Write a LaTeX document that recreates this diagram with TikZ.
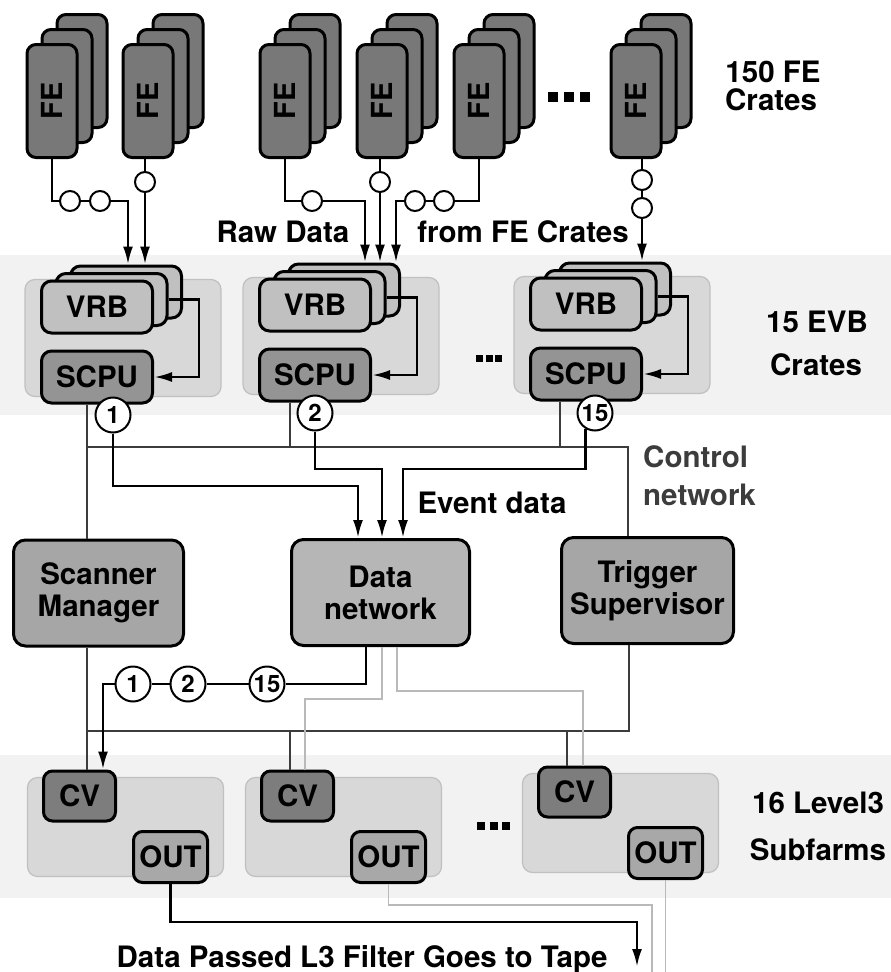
\documentclass[tikz,border=0pt]{standalone}
\usepackage{fontspec}
\setmainfont{TeX Gyre Heros}
\usepackage{graphicx}
\usetikzlibrary{arrows.meta}
\definecolor{fegray}{RGB}{120,120,120}
\definecolor{vrbgray}{RGB}{192,192,192}
\definecolor{cpugray}{RGB}{148,148,148}
\definecolor{crategray}{RGB}{216,216,216}
\definecolor{crateedge}{RGB}{192,192,192}
\definecolor{bandgray}{RGB}{242,242,242}
\definecolor{smgray}{RGB}{166,166,166}
\definecolor{dngray}{RGB}{182,182,182}
\definecolor{cvgray}{RGB}{125,125,125}
\definecolor{outgray}{RGB}{168,168,168}
\definecolor{ctrlgray}{RGB}{60,60,60}
\definecolor{lightline}{RGB}{185,185,185}
\newcommand{\tridots}[2]{\rule{#1}{#1}\hspace{#2}\rule{#1}{#1}\hspace{#2}\rule{#1}{#1}}

\begin{document}
\begin{tikzpicture}[x=1pt,y=-1pt,font=\bfseries\fontsize{29.5}{32}\selectfont,
  fecard/.style={draw,line width=3pt,rounded corners=9pt,fill=fegray,minimum width=50pt,minimum height=113pt,inner sep=0pt},
  vrbcard/.style={draw,line width=3pt,rounded corners=10pt,fill=vrbgray,minimum width=111pt,minimum height=52pt,inner sep=0pt},
  scpubox/.style={vrbcard,fill=cpugray},
  crate/.style={draw=crateedge,line width=1.2pt,rounded corners=10pt,fill=crategray,inner sep=0pt},
  bigbox/.style={draw,line width=3pt,rounded corners=12pt,align=center,inner sep=0pt,minimum height=106pt},
  cvbox/.style={draw,line width=3pt,rounded corners=9pt,fill=cvgray,minimum width=72pt,minimum height=50pt,inner sep=0pt},
  outbox/.style={cvbox,fill=outgray,minimum width=74pt,minimum height=51pt},
  link/.style={circle,draw,line width=2pt,fill=white,minimum size=20pt,inner sep=0pt},
  num/.style={circle,draw,line width=2pt,fill=white,minimum size=35pt,inner sep=0pt,font=\bfseries\fontsize{24}{24}\selectfont},
  data/.style={line width=2.7pt},
  arr/.style={-{Latex[length=18pt,width=10pt]}},
  ctrl/.style={line width=1.8pt,ctrlgray},
  faint/.style={line width=1.8pt,lightline},
  lbl/.style={anchor=base,inner sep=0pt}]
\useasboundingbox (0,0) rectangle (891,972);
\fill[bandgray] (0,255) rectangle (891,415);
\fill[bandgray] (0,755) rectangle (891,898);

\foreach \sx/\nm in {52/a,148/b,285/c,382/d,479/e,636/f}{
  \node[fecard] at (\sx+30,71) {};
  \node[fecard] at (\sx+15,86) {};
  \node[fecard] (fe\nm) at (\sx,101) {\rotatebox{90}{\fontsize{29}{29}\selectfont FE}};
}
\node (fedots) at (569,97) {\tridots{10pt}{6pt}};
\node[lbl] (felbla) at (773,82) {150 FE};
\node[lbl] (felblb) at (771,110) {Crates};

\foreach \vx/\vy/\k in {97/307/1,315/305/2,586/304/3}{
  \node[crate,minimum width=196pt,minimum height=117pt] (crate\k) at (\vx+26,\vy+31) {};
  \node[vrbcard] (vrbc\k) at (\vx+29,\vy-15) {};
  \node[vrbcard] (vrbb\k) at (\vx+14.5,\vy-7.5) {};
  \node[vrbcard] (vrb\k) at (\vx,\vy) {VRB};
  \node[scpubox] (scpu\k) at (\vx,\vy+70) {SCPU};
  \coordinate (fb\k) at (\vx+102,\vy+30);
  \draw[data,arr] (vrbb\k.east) -| (fb\k) |- (scpu\k.east);
}
\node (evbdots) at (489,358) {\tridots{7pt}{2.5pt}};
\node[lbl] (evblbla) at (817,332) {15 EVB};
\node[lbl] (evblblb) at (816,375) {Crates};

\node[link] (la1) at (70,201) {};
\node[link] (la2) at (100,201) {};
\node[link] (lb1) at (145,182) {};
\node[link] (lc1) at (312,201) {};
\node[link] (ld1) at (380,182) {};
\node[link] (le1) at (415,201) {};
\node[link] (le2) at (444,201) {};
\node[link] (lf1) at (642,180) {};
\node[link] (lf2) at (642,208) {};
\coordinate (ina) at (128,0);
\coordinate (inc) at (365,0);
\coordinate (ine) at (396,0);
\draw[data] (fea.south) |- (la1);
\draw[data] (la1) -- (la2);
\draw[data,arr] (la2) -| (ina |- vrbc1.north);
\draw[data] (feb.south -| lb1) -- (lb1);
\draw[data,arr] (lb1) -- (lb1 |- vrbc1.north);
\draw[data] (fec.south) |- (lc1);
\draw[data,arr] (lc1) -| (inc |- vrbc2.north);
\draw[data] (fed.south -| ld1) -- (ld1);
\draw[data,arr] (ld1) -- (ld1 |- vrbc2.north);
\draw[data] (fee.south) |- (le2);
\draw[data] (le2) -- (le1);
\draw[data,arr] (le1) -| (ine |- vrbc2.north);
\draw[data] (fef.south -| lf1) -- (lf1);
\draw[data] (lf1) -- (lf2);
\draw[data,arr] (lf2) -- (lf2 |- vrbc3.north);
\node[lbl] (rawlbl) at (283,242) {Raw Data};
\node[lbl] (fromlbl) at (523,242) {from FE Crates};

\node[bigbox,fill=smgray,minimum width=170pt] (sm) at (98.5,593) {Scanner\\Manager};
\node[bigbox,fill=dngray,minimum width=178pt] (dn) at (380.5,592.5) {Data\\network};
\node[bigbox,fill=smgray,minimum width=172pt] (ts) at (647.5,590.5) {Trigger\\Supervisor};

\coordinate (cnl) at (87,447);
\coordinate (cnr) at (628,447);
\draw[ctrl] (scpu1.south -| cnl) -- (sm.north -| cnl);
\draw[ctrl] ([xshift=-25]scpu2.south) -- ([xshift=-25]scpu2.south |- cnl);
\draw[ctrl] ([xshift=-26]scpu3.south) -- ([xshift=-26]scpu3.south |- cnl);
\draw[ctrl] (cnl) -- (cnr) -- (ts.north -| cnr);
\node[lbl,anchor=base west,text=ctrlgray] (ctrllbla) at (643,467) {Control};
\node[lbl,anchor=base west,text=ctrlgray] (ctrllblb) at (643,505) {network};

\node[num] (n1) at (113,415) {1};
\node[num] (n2) at (315,413) {2};
\node[num] (n15) at (595,413) {15};
\coordinate (e1) at (358,486);
\coordinate (e2) at (382,469);
\coordinate (e3) at (403,469);
\draw[data,arr] (n1) |- (e1) -- (e1 |- dn.north);
\draw[data,arr] (n2) |- (e2) -- (e2 |- dn.north);
\draw[data,arr] (n15.240) |- (e3) -- (e3 |- dn.north);
\node[lbl] (evlbl) at (492,513) {Event data};

\foreach \fx/\fy/\k in {27/777/1,245/777/2,522/773/3}{
  \node[crate,minimum width=196pt,minimum height=99pt] (farm\k) at (\fx+98.5,\fy+50) {};
  \node[cvbox] (cv\k) at (\fx+52.5,\fy+19) {CV};
  \node[outbox] (out\k) at (\fx+143.5,\fy+80) {OUT};
}
\node (farmdots) at (493.5,826) {\tridots{8pt}{4.5pt}};
\node[lbl] (farmlbla) at (818,813) {16 Level3};
\node[lbl] (farmlblb) at (818,860) {Subfarms};

\coordinate (cbl) at (87,731);
\coordinate (cbr) at (629,731);
\draw[ctrl] (sm.south -| cbl) -- (cv1.north -| cbl);
\draw[ctrl] (ts.south -| cbr) -- (cbr) -- (cbl);
\draw[ctrl] ([xshift=-7.5]cv2.north |- cbl) -- ([xshift=-7.5]cv2.north);
\draw[ctrl] ([xshift=-7.5]cv3.north |- cbl) -- ([xshift=-7.5]cv3.north);

\node[num] (m1) at (133,684) {1};
\node[num] (m2) at (188,684) {2};
\node[num] (m15) at (267,684) {15};
\draw[data] ([xshift=-14.5]dn.south) |- (m15);
\draw[data] (m15) -- (m2);
\draw[data] (m2) -- (m1);
\draw[data,arr] (m1) -| ([xshift=23.5]cv1.north);
\coordinate (g2) at (305,699);
\coordinate (g3) at (583,691);
\draw[faint] ([xshift=1.5]dn.south) |- (g2) -- (g2 |- cv2.north);
\draw[faint] ([xshift=16.5]dn.south) |- (g3) -- (g3 |- cv3.north);

\coordinate (t1) at (637,922);
\coordinate (tape) at (637,967);
\coordinate (t2) at (652,905);
\coordinate (bot) at (0,972);
\draw[data,arr] (out1.south) |- (t1) -- (tape);
\draw[faint] (out2.south) |- (t2) -- (t2 |- bot);
\draw[faint] (out3.south) -- (out3.south |- bot);
\node[lbl] (tapelbl) at (362,967) {Data Passed L3 Filter Goes to Tape};
\end{tikzpicture}
\end{document}
